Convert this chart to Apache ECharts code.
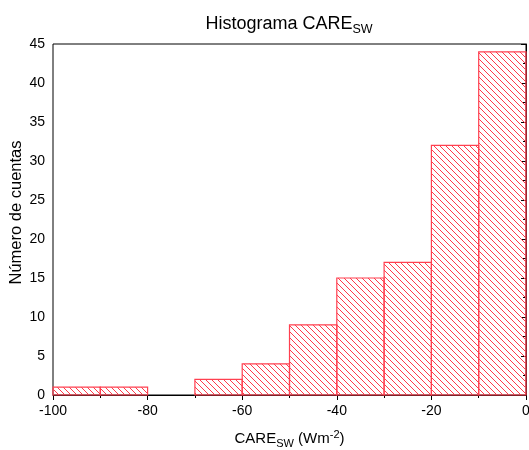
<!DOCTYPE html>
<html><head><meta charset="utf-8">
<script src="https://cdn.jsdelivr.net/npm/echarts@6/dist/echarts.min.js"></script>
<style>html,body{margin:0;padding:0;background:#fff}#c{width:529px;height:450px}</style>
</head><body><div id="c"></div>
<script>
const binStarts = [-100, -90, -80, -70, -60, -50, -40, -30, -20, -10];
const binWidth = 10;
const counts = [1, 1, 0, 2, 4, 9, 15, 17, 32, 44];
const xTicks = [-100, -80, -60, -40, -20, 0];
const yTicks = [0, 5, 10, 15, 20, 25, 30, 35, 40, 45];

function hatch() {
  const s = 6, c = document.createElement('canvas');
  c.width = s; c.height = s;
  const g = c.getContext('2d');
  g.strokeStyle = '#ff3a4a'; g.lineWidth = 1;
  g.beginPath();
  for (let k = -1; k <= 1; k++) {
    g.moveTo(k * s - 1, -1); g.lineTo(k * s + s + 1, s + 1);
  }
  g.stroke();
  return c;
}
const pattern = { image: hatch(), repeat: 'repeat' };
const data = binStarts.map((b, i) => [b, b + binWidth, counts[i]]);
const font = '"Liberation Sans", Arial, sans-serif';
const chart = echarts.init(document.getElementById('c'), null, {renderer: 'canvas'});
chart.setOption({
  animation: false,
  title: {
    text: '{a|Histograma CARE}{b|SW}',
    left: 284, top: 7, textAlign: 'center',
    textStyle: { fontWeight: 'normal', rich: {
      a: { fontFamily: font, fontSize: 18, fontWeight: 'normal', color: '#000', lineHeight: 24 },
      b: { fontFamily: font, fontSize: 12.5, fontWeight: 'normal', color: '#000', padding: [11, 0, 0, 0], lineHeight: 24 }
    } }
  },
  grid: { left: 53, right: 3, top: 44, bottom: 55, outerBoundsMode: 'none', containLabel: false, show: true, borderColor: '#000', borderWidth: 1, backgroundColor: 'transparent' },
  xAxis: {
    type: 'value', min: xTicks[0], max: xTicks[xTicks.length - 1], interval: 20,
    name: '{a|CARE}{b|SW}{a| (Wm}{c|-2}{a|)}', nameLocation: 'middle', nameGap: 33, nameMoveOverlap: false,
    nameTextStyle: { rich: {
      a: { fontFamily: font, fontSize: 15, color: '#000', lineHeight: 22 },
      b: { fontFamily: font, fontSize: 11, color: '#000', padding: [9, 0, 0, 0], lineHeight: 22 },
      c: { fontFamily: font, fontSize: 11, color: '#000', padding: [0, 0, 8, 0], lineHeight: 22 }
    } },
    axisLine: { show: true, lineStyle: { color: '#000', width: 1 } },
    axisTick: { show: true, inside: false, length: 5, lineStyle: { color: '#000' } },
    minorTick: { show: true, splitNumber: 2, length: 3, lineStyle: { color: '#000' } },
    splitLine: { show: false },
    axisLabel: { fontFamily: font, fontSize: 14, color: '#000', margin: 9 }
  },
  yAxis: {
    type: 'value', min: yTicks[0], max: yTicks[yTicks.length - 1], interval: 5,
    name: 'Número de cuentas', nameLocation: 'middle', nameGap: 28, nameMoveOverlap: false,
    nameTextStyle: { fontFamily: font, fontSize: 16.5, color: '#000', padding: [0, 0, 0, 14] },
    axisLine: { show: true, lineStyle: { color: '#000', width: 1 } },
    axisTick: { show: true, inside: false, length: 5, lineStyle: { color: '#000' } },
    minorTick: { show: true, splitNumber: 2, length: 3, lineStyle: { color: '#000' } },
    splitLine: { show: false },
    axisLabel: { fontFamily: font, fontSize: 14, color: '#000', margin: 8 }
  },
  series: [{
    type: 'custom',
    data: data,
    renderItem: function (params, api) {
      if (api.value(2) <= 0) return null;
      const p0 = api.coord([api.value(0), api.value(2)]);
      const p1 = api.coord([api.value(1), 0]);
      return {
        type: 'rect',
        shape: { x: p0[0], y: p0[1], width: p1[0] - p0[0], height: p1[1] - p0[1] },
        style: { fill: pattern, stroke: '#ff4050', lineWidth: 1.2 }
      };
    },
    encode: { x: [0, 1], y: 2 }
  }]
});
</script></body></html>
